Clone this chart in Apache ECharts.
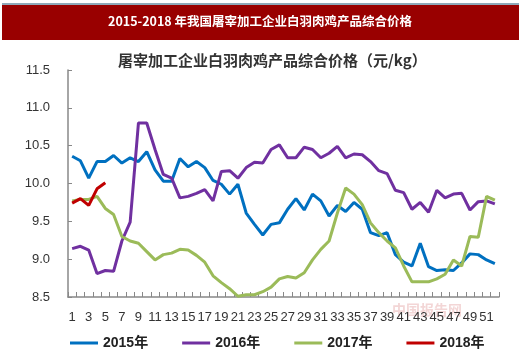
<!DOCTYPE html>
<html>
<head>
<meta charset="utf-8">
<script src="https://cdn.jsdelivr.net/npm/echarts@6/dist/echarts.min.js"></script>
<style>
  html, body { margin: 0; padding: 0; background: #fff; }
  #main { width: 520px; height: 354px; }
</style>
</head>
<body>
<div id="main"></div>
<script>
// 周次 1..52
const weeks = [];
for (let i = 1; i <= 52; i++) weeks.push(String(i));

const yTicks = [8.5, 9.0, 9.5, 10.0, 10.5, 11.0, 11.5];

const price2015 = [10.36, 10.30, 10.07, 10.29, 10.29, 10.37, 10.27, 10.34, 10.29, 10.42,
  10.18, 10.03, 10.03, 10.33, 10.22, 10.29, 10.21, 10.04, 9.99, 9.86,
  9.99, 9.61, 9.46, 9.32, 9.46, 9.48, 9.66, 9.80, 9.65, 9.86,
  9.77, 9.57, 9.71, 9.63, 9.75, 9.66, 9.35, 9.31, 9.35, 9.06,
  8.96, 8.91, 9.21, 8.90, 8.85, 8.86, 8.85, 8.95, 9.07, 9.06,
  8.99, 8.94];

const price2016 = [9.14, 9.17, 9.12, 8.81, 8.85, 8.84, 9.24, 9.49, 10.80, 10.80,
  10.45, 10.12, 10.07, 9.81, 9.83, 9.87, 9.92, 9.77, 10.16, 10.17,
  10.07, 10.21, 10.28, 10.27, 10.45, 10.51, 10.34, 10.34, 10.48, 10.45,
  10.34, 10.40, 10.49, 10.34, 10.39, 10.38, 10.29, 10.17, 10.13, 9.91,
  9.88, 9.66, 9.75, 9.62, 9.91, 9.81, 9.86, 9.87, 9.65, 9.76,
  9.77, 9.73];

const price2017 = [9.77, 9.79, 9.79, 9.83, 9.67, 9.59, 9.30, 9.24, 9.21, 9.10,
  8.99, 9.06, 9.08, 9.13, 9.12, 9.05, 8.96, 8.78, 8.69, 8.61,
  8.51, 8.53, 8.53, 8.57, 8.63, 8.74, 8.77, 8.75, 8.82, 8.99,
  9.13, 9.24, 9.61, 9.94, 9.86, 9.72, 9.48, 9.35, 9.24, 9.15,
  8.91, 8.70, 8.70, 8.70, 8.74, 8.80, 8.99, 8.91, 9.30, 9.29,
  9.83, 9.78];

const price2018 = [9.74, 9.80, 9.71, 9.93, 10.01];

const seriesNames = ["2015年", "2016年", "2017年", "2018年"];
const seriesColors = ["#0070C0", "#7030A0", "#9BBB59", "#C00000"];
const seriesData = [price2015, price2016, price2017, price2018];

const mychart = echarts.init(document.getElementById("main"));

const font = "'Liberation Sans', 'Noto Sans CJK SC', sans-serif";

const option = {
  animation: false,
  textStyle: { fontFamily: font },
  graphic: [
    // 顶部细线
    { type: "rect", left: 2, top: 3, shape: { width: 517, height: 2 }, style: { fill: "#8fa9b9" } },
    // 标题栏
    { type: "rect", left: 2, top: 5, shape: { width: 517, height: 35 }, style: { fill: "#990000" } },
    {
      type: "text", left: "center", top: 15,
      style: {
        text: "2015-2018 年我国屠宰加工企业白羽肉鸡产品综合价格",
        fill: "#fff", font: "bold 12.5px 'Noto Sans CJK SC', sans-serif"
      }
    },
    {
      type: "text", left: 118, top: 53,
      style: {
        text: "屠宰加工企业白羽肉鸡产品综合价格（元/kg）",
        fill: "#333", font: "bold 15px 'Noto Sans CJK SC', sans-serif"
      }
    },
    {
      type: "text", left: 392, top: 303,
      style: {
        text: "中国报告网",
        fill: "rgba(200,70,70,0.22)", font: "bold 14px 'Noto Sans CJK SC', sans-serif"
      }
    }
  ],
  legend: {
    left: 65,
    top: 331,
    icon: "rect",
    itemWidth: 28,
    itemHeight: 3,
    itemGap: 34,
    data: seriesNames,
    textStyle: {
      color: "#222",
      fontSize: 14,
      fontWeight: "bold",
      fontFamily: font
    }
  },
  grid: {
    left: 68,
    right: 21,
    top: 70,
    bottom: 57,
    containLabel: false
  },
  xAxis: {
    type: "category",
    boundaryGap: true,
    data: weeks,
    axisLine: { lineStyle: { color: "#888", width: 1.5 } },
    axisTick: { show: true, inside: true, length: 5, interval: 0, lineStyle: { color: "#888" } },
    axisLabel: {
      interval: 1,
      color: "#333",
      fontSize: 13,
      margin: 14
    },
    splitLine: { show: false }
  },
  yAxis: {
    type: "value",
    min: yTicks[0],
    max: yTicks[yTicks.length - 1],
    interval: 0.5,
    axisLine: { show: true, lineStyle: { color: "#888", width: 1.5 } },
    axisTick: { show: true, inside: true, length: 4, lineStyle: { color: "#888" } },
    axisLabel: {
      color: "#333",
      fontSize: 13,
      margin: 18,
      formatter: (v) => v.toFixed(1)
    },
    splitLine: { show: false }
  },
  series: seriesNames.map((name, i) => ({
    name: name,
    type: "line",
    data: seriesData[i],
    symbol: "none",
    smooth: false,
    lineStyle: { color: seriesColors[i], width: 3 },
    itemStyle: { color: seriesColors[i] }
  }))
};

mychart.setOption(option);
</script>
</body>
</html>
